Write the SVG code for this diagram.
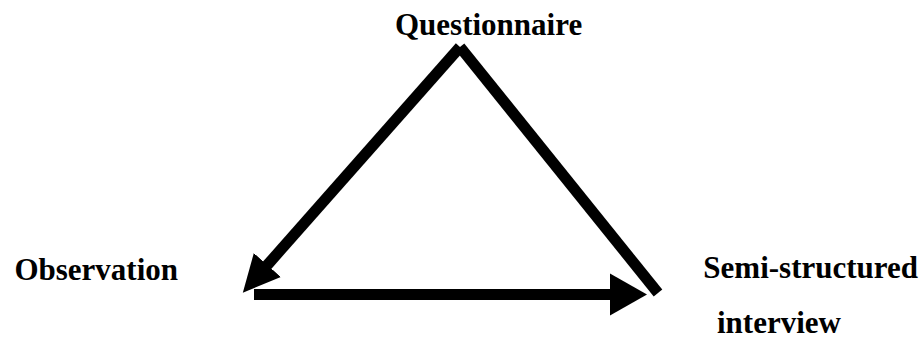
<svg xmlns="http://www.w3.org/2000/svg" width="922" height="348" viewBox="0 0 922 348">
<style>
.lbl{font-family:"Liberation Serif","Times New Roman",serif;font-weight:bold;font-size:31px;fill:#000}
.ln{stroke:#000;stroke-width:11;fill:none;stroke-linecap:butt}
</style>
<defs>
<marker id="ahL" viewBox="-2 -19 38 38" markerWidth="38" markerHeight="38" refX="0" refY="0" orient="auto" markerUnits="userSpaceOnUse">
<path d="M-2,-18 L35,0 L-2,18 Z" fill="#000"/>
</marker>
<marker id="ahR" viewBox="-2 -22 38 44" markerWidth="38" markerHeight="44" refX="0" refY="0" orient="auto" markerUnits="userSpaceOnUse">
<path d="M-2,-21 L35,0 L-2,21 Z" fill="#000"/>
</marker>
</defs>
<rect width="922" height="348" fill="#fff"/>
<g id="connectors">
<line class="ln" x1="460" y1="47" x2="266" y2="266.5" marker-end="url(#ahL)"/>
<line class="ln" x1="460" y1="47" x2="658" y2="293"/>
<line class="ln" x1="254" y1="294.5" x2="612" y2="294.5" marker-end="url(#ahR)"/>
</g>
<g id="questionnaire"><text class="lbl" x="395" y="35">Questionnaire</text></g>
<g id="observation"><text class="lbl" x="178" y="280" text-anchor="end">Observation</text></g>
<g id="interview"><text class="lbl" x="918" y="278" text-anchor="end">Semi-structured</text><text class="lbl" x="717" y="333">interview</text></g>
</svg>
